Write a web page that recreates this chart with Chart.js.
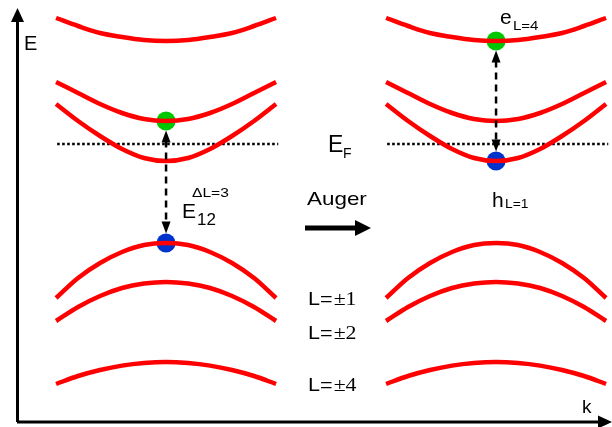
<!DOCTYPE html>
<html><head><meta charset="utf-8">
<script src="https://cdn.jsdelivr.net/npm/chart.js@4/dist/chart.umd.min.js"></script>
<style>html,body{margin:0;padding:0;background:#fff;overflow:hidden;width:612px;height:427px;} canvas{display:block;}</style>
</head><body>
<canvas id="c" width="612" height="427"></canvas>
<script>
// wave-vector grid (arbitrary units), one panel per process stage
const kGrid = [-1, -0.8, -0.6, -0.4, -0.2, 0, 0.2, 0.4, 0.6, 0.8, 1];
const panelCenters = [0, 3.0];
// conduction bands (energy relative to E_F, arbitrary units)
const bandC4 = [3.15, 2.95, 2.775, 2.675, 2.6, 2.575, 2.6, 2.675, 2.775, 2.95, 3.15];
const bandC2 = [1.55, 1.275, 1.0, 0.775, 0.625, 0.575, 0.625, 0.775, 1.0, 1.275, 1.55];
const bandC1 = [1.0, 0.575, 0.2, -0.125, -0.35, -0.425, -0.35, -0.125, 0.2, 0.575, 1.0];
// valence bands
const bandV1 = [-3.85, -3.35, -2.975, -2.7, -2.525, -2.475, -2.525, -2.7, -2.975, -3.35, -3.85];
const bandV2 = [-4.425, -4.075, -3.8, -3.6, -3.49, -3.45, -3.49, -3.6, -3.8, -4.075, -4.425];
const bandV4 = [-6.0, -5.8, -5.65, -5.54, -5.475, -5.45, -5.475, -5.54, -5.65, -5.8, -6.0];
const fermiLevel = 0;
const fermiSpan = [-0.99, 1.02];
// carriers: [panel index, band] (taken at k = 0)
const electrons = [[0, bandC2], [1, bandC4]];
const holes = [[0, bandV1], [1, bandC1]];
const bandLabels = ['1', '2', '4'];

const bands = [bandC4, bandC2, bandC1, bandV1, bandV2, bandV4];
const datasets = [];
panelCenters.forEach(c => {
  bands.forEach(b => {
    datasets.push({
      type: 'line',
      data: kGrid.map((k, i) => ({x: c + k, y: b[i]})),
      borderColor: '#ff0000', borderWidth: 4.5, pointRadius: 0,
      cubicInterpolationMode: 'monotone', fill: false
    });
  });
  datasets.push({
    type: 'line',
    data: [{x: c + fermiSpan[0], y: fermiLevel}, {x: c + fermiSpan[1], y: fermiLevel}],
    borderColor: '#000', borderWidth: 2.5, borderDash: [2.6, 2.4], pointRadius: 0
  });
});
const centerIdx = kGrid.indexOf(0);
datasets.push({
  type: 'scatter',
  data: electrons.map(([p, b]) => ({x: panelCenters[p] + kGrid[centerIdx], y: b[centerIdx]})),
  backgroundColor: '#00c800', pointRadius: 9.5, pointBorderWidth: 0, pointHoverRadius: 9.5
});
datasets.push({
  type: 'scatter',
  data: holes.map(([p, b]) => ({x: panelCenters[p] + kGrid[centerIdx], y: b[centerIdx]})),
  backgroundColor: '#0033cc', pointRadius: 9.5, pointBorderWidth: 0, pointHoverRadius: 9.5
});

function head(ctx, x, y, dx, dy, len, hw) {
  const px = -dy, py = dx;
  ctx.beginPath();
  ctx.moveTo(x, y);
  ctx.lineTo(x - dx * len + px * hw, y - dy * len + py * hw);
  ctx.lineTo(x - dx * len - px * hw, y - dy * len - py * hw);
  ctx.closePath();
  ctx.fill();
}

const deco = {
  id: 'deco',
  afterDraw(chart) {
    const ctx = chart.ctx, a = chart.chartArea;
    const xs = chart.scales.x, ys = chart.scales.y;
    ctx.save();
    ctx.fillStyle = '#000'; ctx.strokeStyle = '#000';
    // axes
    ctx.lineWidth = 3;
    ctx.beginPath();
    ctx.moveTo(a.left + 0.5, a.bottom); ctx.lineTo(a.left + 0.5, 20);
    ctx.moveTo(a.left, a.bottom); ctx.lineTo(a.right - 12, a.bottom);
    ctx.stroke();
    head(ctx, a.left + 0.5, 8, 0, -1, 14, 6.5);
    head(ctx, a.right, a.bottom, 1, 0, 14, 6.5);
    // transition arrows
    const r = 9.5;
    electrons.forEach(([p, be], i) => {
      const bh = holes[i][1];
      const x = xs.getPixelForValue(panelCenters[p]);
      const yTop = ys.getPixelForValue(be[centerIdx]) + r;
      const yBot = ys.getPixelForValue(bh[centerIdx]) - r;
      ctx.lineWidth = 2.5;
      ctx.setLineDash([7, 5]);
      ctx.beginPath();
      ctx.moveTo(x, yTop + 10); ctx.lineTo(x, yBot - 10);
      ctx.stroke();
      ctx.setLineDash([]);
      head(ctx, x, yTop, 0, -1, 12, 4.5);
      head(ctx, x, yBot, 0, 1, 12, 4.5);
    });
    // Auger arrow
    ctx.lineWidth = 5;
    ctx.beginPath(); ctx.moveTo(305, 228); ctx.lineTo(357, 228); ctx.stroke();
    head(ctx, 371, 228, 1, 0, 16, 8);
    // texts
    const sans = "'Liberation Sans', Arial, sans-serif";
    const serif = "'Liberation Serif', 'Times New Roman', serif";
    ctx.textBaseline = 'alphabetic'; ctx.textAlign = 'left';
    function t(s, x, y, size, fam, sx) {
      sx = sx || 1;
      ctx.font = size + 'px ' + (fam || sans);
      ctx.save(); ctx.translate(x, y); ctx.scale(sx, 1); ctx.fillText(s, 0, 0); ctx.restore();
      return ctx.measureText(s).width * sx;
    }
    t('E', 24, 50, 20);
    t('k', 582, 413, 19);
    t('E', 328, 152, 23); t('F', 343, 158, 14);
    t('\u0394L=3', 192, 197, 12, sans, 1.3);
    t('E', 182, 218, 21); t('12', 197, 225, 17);
    t('Auger', 307, 205, 19, sans, 1.18);
    t('e', 500, 24, 21); t('L=4', 513, 30, 12, sans, 1.25);
    t('h', 492, 207, 21); t('L=1', 505, 208, 12, sans, 1.15);
    bandLabels.forEach((d, i) => {
      const y = [305, 339, 391][i];
      const w = t('L=', 308, y, 18, sans, 1.2);
      t('\u00b1' + d, 308 + w + 1, y, 19, serif, 1.15);
    });
    ctx.restore();
  }
};

new Chart(document.getElementById('c'), {
  type: 'line',
  data: {datasets},
  options: {
    responsive: false, animation: false, devicePixelRatio: 1,
    layout: {autoPadding: false, padding: {left: 17, top: 0, right: 0, bottom: 5}},
    plugins: {legend: {display: false}, tooltip: {enabled: false}},
    scales: {
      x: {type: 'linear', min: -1.355, max: 4.054, display: false},
      y: {type: 'linear', min: -6.95, max: 3.6, display: false}
    }
  },
  plugins: [deco]
});
</script>
</body></html>
